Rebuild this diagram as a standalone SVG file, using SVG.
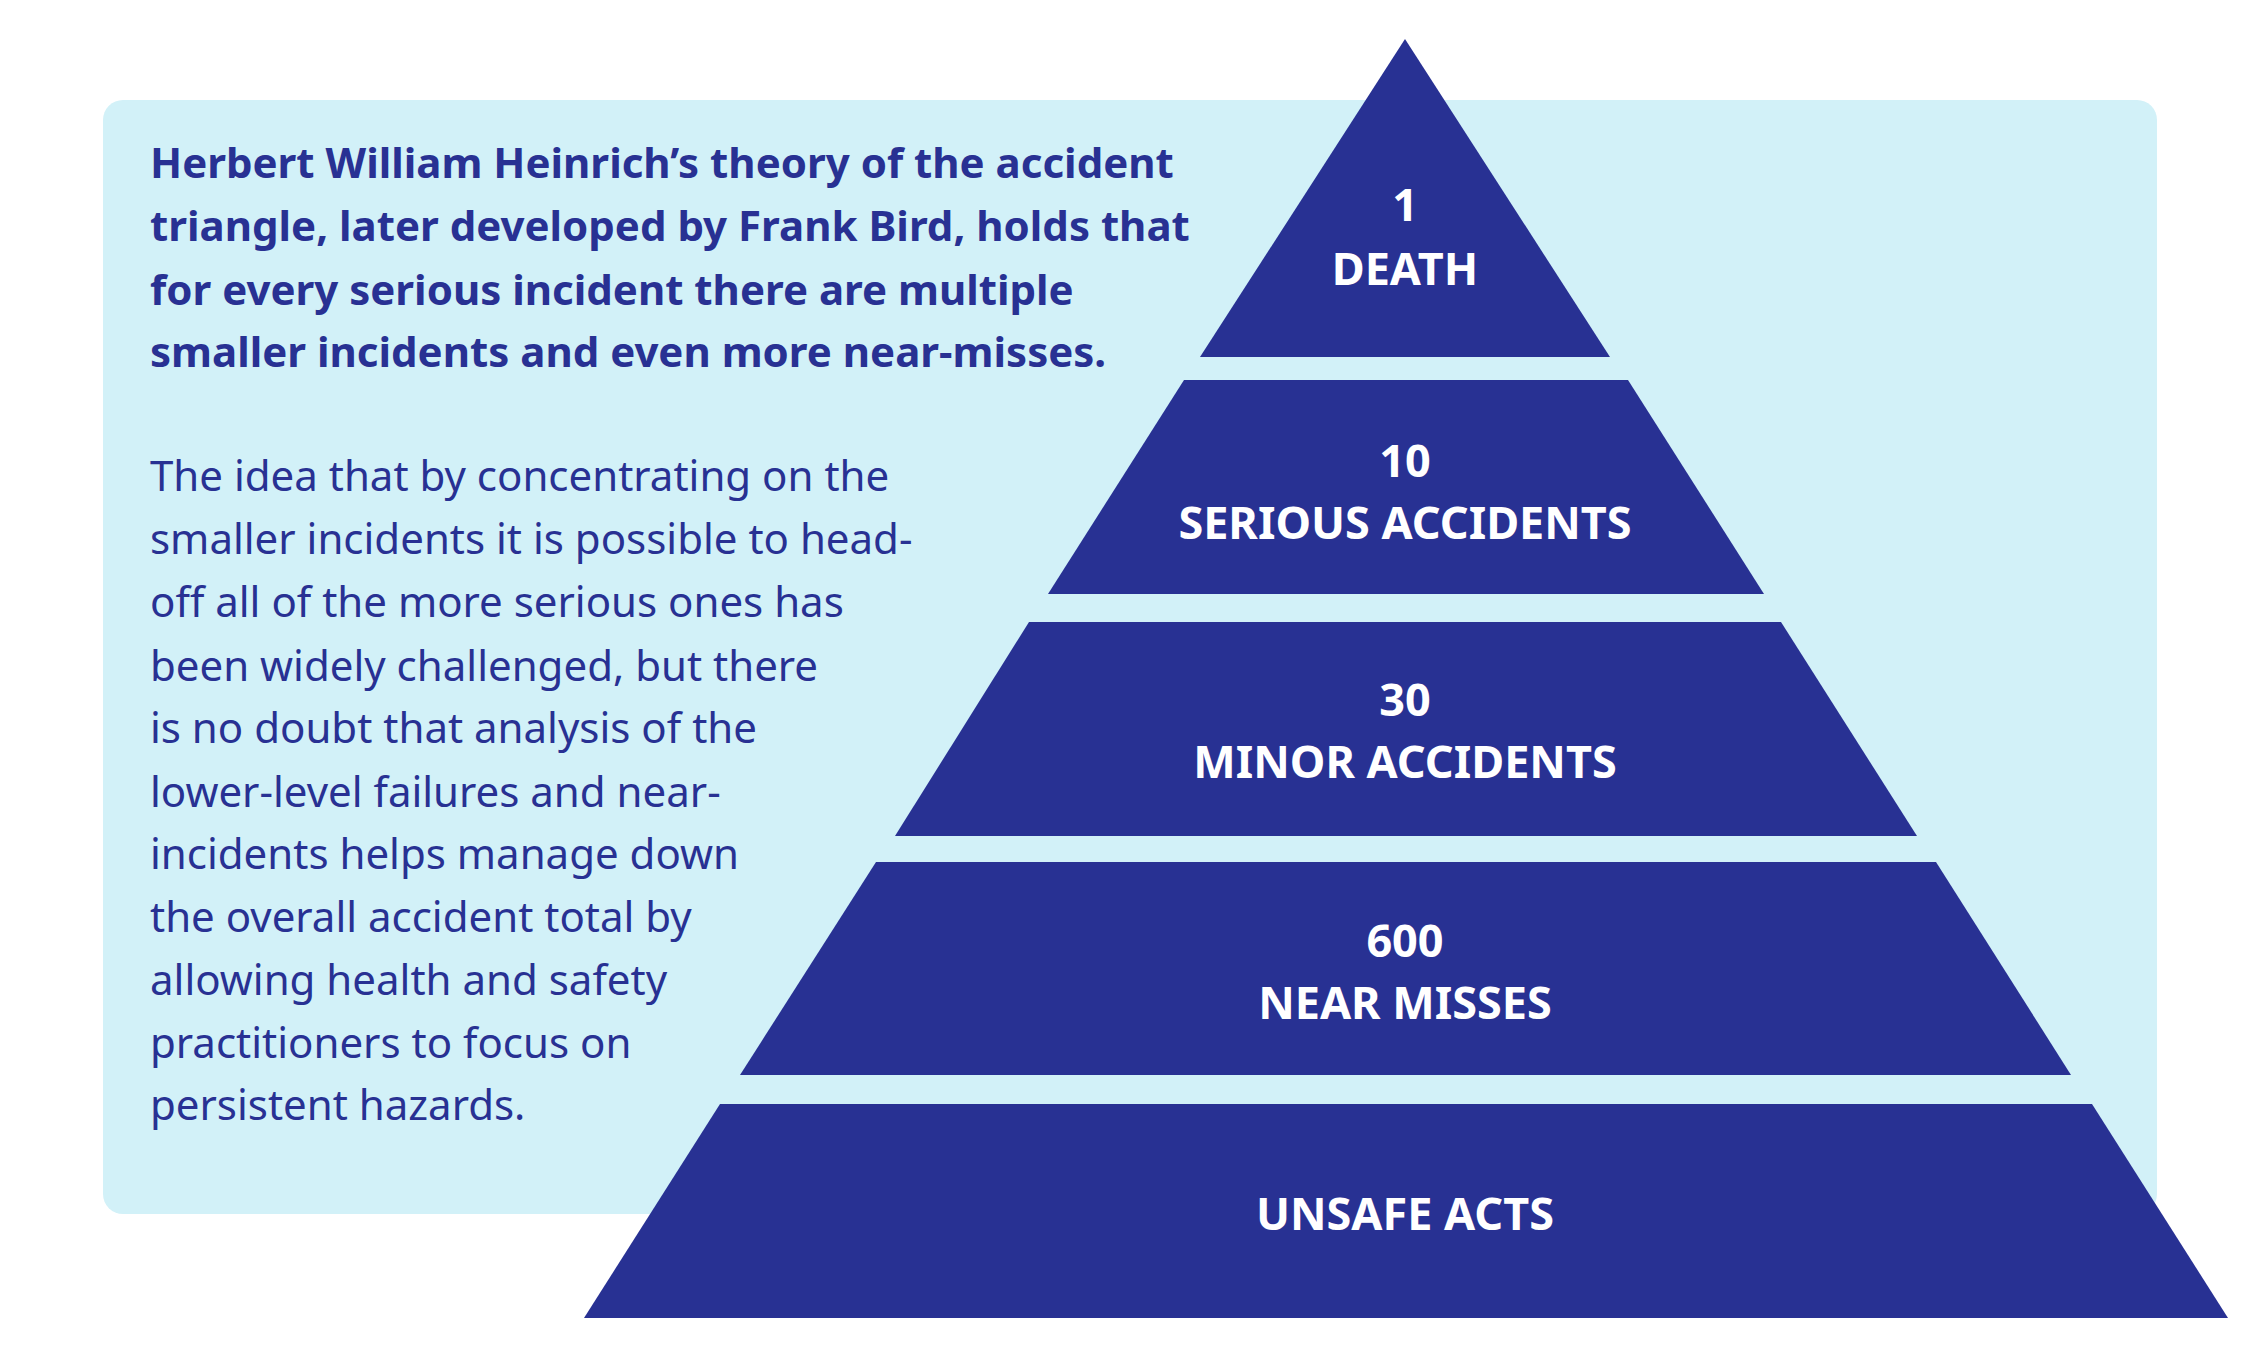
<svg xmlns="http://www.w3.org/2000/svg" width="2255" height="1345" viewBox="0 0 2255 1345">
<style>
.t{font-family:"Noto Sans","Liberation Sans",sans-serif;fill:#283193;font-size:42px}
.b{font-weight:bold}
.l{font-family:"Noto Sans","Liberation Sans",sans-serif;fill:#fff;font-size:45px;font-weight:bold;text-anchor:middle}
.p{fill:#283193}
</style>
<rect width="2255" height="1345" fill="#fff"/>
<rect id="panel" x="103" y="100" width="2054" height="1114" rx="20" fill="#d2f1f8"/>
<g id="text">
<text class="t b" x="150" y="178">Herbert William Heinrich’s theory of the accident</text>
<text class="t b" x="150" y="241">triangle, later developed by Frank Bird, holds that</text>
<text class="t b" x="150" y="305">for every serious incident there are multiple</text>
<text class="t b" x="150" y="367">smaller incidents and even more near-misses.</text>
<text class="t" x="150" y="491">The idea that by concentrating on the</text>
<text class="t" x="150" y="554">smaller incidents it is possible to head-</text>
<text class="t" x="150" y="617">off all of the more serious ones has</text>
<text class="t" x="150" y="681">been widely challenged, but there</text>
<text class="t" x="150" y="743">is no doubt that analysis of the</text>
<text class="t" x="150" y="807">lower-level failures and near-</text>
<text class="t" x="150" y="869">incidents helps manage down</text>
<text class="t" x="150" y="932">the overall accident total by</text>
<text class="t" x="150" y="995">allowing health and safety</text>
<text class="t" x="150" y="1058">practitioners to focus on</text>
<text class="t" x="150" y="1120">persistent hazards.</text>
</g>
<g id="tier1"><polygon class="p" points="1405,39 1610,357 1200,357"/><text class="l" x="1405" y="221">1</text><text class="l" x="1405" y="285">DEATH</text></g>
<g id="tier2"><polygon class="p" points="1184,380 1628,380 1764,594 1048,594"/><text class="l" x="1405" y="477">10</text><text class="l" x="1405" y="539">SERIOUS ACCIDENTS</text></g>
<g id="tier3"><polygon class="p" points="1029,622 1781,622 1917,836 895,836"/><text class="l" x="1405" y="716">30</text><text class="l" x="1405" y="778">MINOR ACCIDENTS</text></g>
<g id="tier4"><polygon class="p" points="876,862 1936,862 2071,1075 740,1075"/><text class="l" x="1405" y="957">600</text><text class="l" x="1405" y="1019">NEAR MISSES</text></g>
<g id="tier5"><polygon class="p" points="720,1104 2092,1104 2228,1318 584,1318"/><text class="l" x="1405" y="1230">UNSAFE ACTS</text></g>
<g id="connectors"/>
</svg>
